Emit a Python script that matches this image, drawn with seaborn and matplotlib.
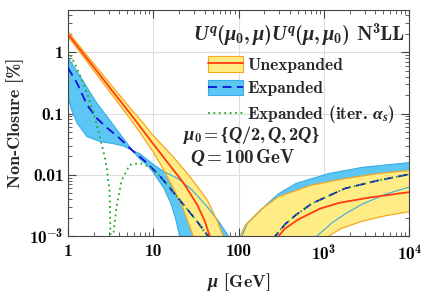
import numpy as np
import pandas as pd
import seaborn as sns
import matplotlib.pyplot as plt
from matplotlib.patches import Patch
from matplotlib.lines import Line2D
from matplotlib.ticker import FixedLocator, FixedFormatter, LogLocator, NullFormatter

# ---------------- data (non-closure in %) ----------------
# Unexpanded, central curve
unexp_mu_lo = [1, 1.8, 3.2, 5.6, 10, 13, 17, 22, 27, 33, 40, 46, 50, 52]
unexp_lo = [2.0, 0.70, 0.25, 0.093, 0.032, 0.020, 0.0123, 0.0078, 0.0050, 0.0032, 0.0018, 0.0010, 0.0005, 0.0002]
unexp_mu_hi = [265, 295, 350, 500, 900, 1500, 3500, 10000]
unexp_hi = [0.0004, 0.0010, 0.00132, 0.00186, 0.0028, 0.00347, 0.00427, 0.0052]

# Unexpanded band (scale variation)
unexp_up_mu_lo = [1, 1.8, 3.2, 5.6, 7, 10, 17, 27, 43, 56, 66, 72]
unexp_up_lo = [2.19, 0.79, 0.295, 0.115, 0.081, 0.0437, 0.020, 0.0093, 0.0039, 0.0018, 0.0010, 0.0004]
unexp_dn_mu_lo = [1, 1.8, 3.2, 5.6, 7, 10, 12, 17, 22, 29.5, 32]
unexp_dn_lo = [1.82, 0.62, 0.214, 0.076, 0.049, 0.0234, 0.0155, 0.0063, 0.0030, 0.0010, 0.0004]
unexp_up_mu_hi = [95, 105, 120, 188, 295, 725, 1780, 4370, 10000]
unexp_up_hi = [0.0004, 0.0010, 0.0015, 0.0028, 0.0044, 0.0068, 0.0087, 0.0105, 0.0117]
unexp_dn_mu_hi = [1050, 1150, 1580, 2800, 5250, 10000]
unexp_dn_hi = [0.0004, 0.0010, 0.00132, 0.00174, 0.00214, 0.0025]

# Expanded, central curve
exp_mu_lo = [1, 1.29, 1.68, 2.2, 2.9, 4, 5.7, 8.5, 12, 20.4, 32, 44, 48]
exp_lo = [0.56, 0.31, 0.138, 0.083, 0.058, 0.040, 0.025, 0.0155, 0.0095, 0.0039, 0.0018, 0.0010, 0.0004]
exp_mu_hi = [250, 270, 355, 470, 725, 1780, 4370, 10000]
exp_hi = [0.0005, 0.0010, 0.00158, 0.0022, 0.0034, 0.0060, 0.0081, 0.0102]

# Expanded band
exp_up_mu_lo = [1, 1.4, 2.2, 3.5, 5.7, 7, 10, 13.4, 19.5, 28, 43, 60, 76, 83]
exp_up_lo = [0.83, 0.40, 0.146, 0.062, 0.025, 0.022, 0.0148, 0.0112, 0.0087, 0.0058, 0.0030, 0.00166, 0.0010, 0.0004]
exp_dn_mu_lo = [1, 1.1, 1.29, 1.68, 2.4, 3.5, 4.5, 5.7, 7, 8.5, 10, 13.4, 16, 18.2, 20.4, 21.5]
exp_dn_lo = [0.20, 0.117, 0.069, 0.042, 0.035, 0.032, 0.0295, 0.025, 0.018, 0.0145, 0.011, 0.006, 0.0035, 0.002, 0.0010, 0.0004]
exp_up_mu_hi = [100, 110, 126, 188, 230, 295, 470, 1150, 2800, 10000]
exp_up_hi = [0.0005, 0.0010, 0.00158, 0.00275, 0.0036, 0.0049, 0.0072, 0.0105, 0.0132, 0.0158]
exp_dn_mu_hi = [760, 830, 1260, 1780, 2800, 5250, 10000]
exp_dn_hi = [0.0005, 0.0010, 0.00166, 0.0023, 0.0033, 0.0048, 0.0063]

# Expanded with iterative alpha_s
iter_mu_lo = [1, 1.23, 1.47, 1.76, 2.11, 2.42, 2.64, 2.85, 2.97, 3.08, 3.24, 3.4, 3.72, 4.27, 5.3, 7,
              9.1, 12, 20.4, 32, 43, 47]
iter_lo = [1.07, 0.62, 0.35, 0.178, 0.078, 0.037, 0.0224, 0.0135, 0.0081, 0.0056, 0.0002, 0.0010, 0.0030,
           0.0081, 0.0145, 0.0155, 0.0135, 0.0095, 0.0039, 0.0018, 0.0010, 0.0004]
iter_mu_hi = [245, 265, 355, 470, 725, 1780, 4370, 10000]
iter_hi = [0.0005, 0.0010, 0.00158, 0.0022, 0.0034, 0.0060, 0.0081, 0.0102]

labels = ["Unexpanded", "Expanded", r"Expanded (iter. $\alpha_s$)"]

# ---------------- style ----------------
sns.set_style("ticks")
plt.rcParams['font.family'] = ['cmb10', 'DejaVu Serif']
plt.rcParams['mathtext.fontset'] = 'custom'
plt.rcParams['mathtext.rm'] = 'cmb10'
plt.rcParams['mathtext.bf'] = 'Liberation Serif:bold'
plt.rcParams['mathtext.it'] = 'Liberation Serif:italic:bold'
plt.rcParams['mathtext.fallback'] = 'cm'
plt.rcParams['axes.unicode_minus'] = False

c_yel, c_org, c_red = "#ffec85", "#f5a623", "#ff3b0f"
c_blu, c_bedge, c_dash = "#5cc6f5", "#38ace6", "#1010d8"
c_grn = "#22aa22"

fig = plt.figure(figsize=(4.24, 2.98), dpi=100)
ax = fig.add_axes([0.160, 0.208, 0.805, 0.760])
ax.set(xscale='log', yscale='log', xlim=(1, 1e4), ylim=(1e-3, 5))
ax.set_axisbelow(True)
ax.grid(True, which='major', color='#dddddd', lw=0.8)


def band(mu_up, up, mu_dn, dn, color):
    ax.fill(list(mu_up) + list(mu_dn)[::-1], list(up) + list(dn)[::-1], color=color, lw=0, zorder=1)


# expanded band below the unexpanded one
band(exp_up_mu_lo, exp_up_lo, exp_dn_mu_lo, exp_dn_lo, c_blu)
band(exp_up_mu_hi, exp_up_hi, exp_dn_mu_hi, exp_dn_hi, c_blu)
band(unexp_up_mu_lo, unexp_up_lo, unexp_dn_mu_lo, unexp_dn_lo, c_yel)
band(unexp_up_mu_hi, unexp_up_hi, unexp_dn_mu_hi, unexp_dn_hi, c_yel)

for mx, my in [(exp_up_mu_lo, exp_up_lo), (exp_dn_mu_lo, exp_dn_lo),
               (exp_up_mu_hi, exp_up_hi), (exp_dn_mu_hi, exp_dn_hi)]:
    sns.lineplot(x=mx, y=my, ax=ax, color=c_bedge, lw=0.8, zorder=2)
for mx, my in [(unexp_up_mu_lo, unexp_up_lo), (unexp_dn_mu_lo, unexp_dn_lo),
               (unexp_up_mu_hi, unexp_up_hi), (unexp_dn_mu_hi, unexp_dn_hi)]:
    sns.lineplot(x=mx, y=my, ax=ax, color=c_org, lw=0.9, zorder=2)

for mx, my in [(unexp_mu_lo, unexp_lo), (unexp_mu_hi, unexp_hi)]:
    sns.lineplot(x=mx, y=my, ax=ax, color=c_red, lw=1.3, zorder=3)
for mx, my in [(exp_mu_lo, exp_lo), (exp_mu_hi, exp_hi)]:
    sns.lineplot(x=mx, y=my, ax=ax, color=c_dash, lw=1.3, ls=(0, (5, 3)), zorder=3)
for mx, my in [(iter_mu_lo, iter_lo), (iter_mu_hi, iter_hi)]:
    sns.lineplot(x=mx, y=my, ax=ax, color=c_grn, lw=1.3, ls=(0, (1, 2)), zorder=4)

# ticks
ax.xaxis.set_major_locator(FixedLocator([1, 10, 100, 1e3, 1e4]))
ax.xaxis.set_major_formatter(FixedFormatter(['1', '10', '100', r'$10^3$', r'$10^4$']))
ax.yaxis.set_major_locator(FixedLocator([1e-3, 1e-2, 0.1, 1]))
ax.yaxis.set_major_formatter(FixedFormatter([r'$10^{-3}$', '0.01', '0.1', '1']))
ax.xaxis.set_minor_locator(LogLocator(base=10, subs=np.arange(2, 10), numticks=20))
ax.yaxis.set_minor_locator(LogLocator(base=10, subs=np.arange(2, 10), numticks=20))
ax.xaxis.set_minor_formatter(NullFormatter())
ax.yaxis.set_minor_formatter(NullFormatter())
ax.tick_params(which='both', direction='in', top=True, right=True, labelsize=12.5, colors='#444444',
               labelcolor='black')
ax.tick_params(which='major', length=6, width=0.8)
ax.tick_params(axis='x', which='major', pad=6)
ax.tick_params(axis='y', which='major', pad=3)
ax.tick_params(which='minor', length=3, width=0.6)
for s in ax.spines.values():
    s.set_color('#444444')
    s.set_linewidth(0.8)

ax.set_xlabel(r'$\mu$ [GeV]', fontsize=13, labelpad=6)
ax.set_ylabel('Non-Closure [%]', fontsize=13)

ax.text(0.99, 0.885, r'$U^q(\mu_0,\mu)U^q(\mu,\mu_0)$ N$^3$LL', transform=ax.transAxes,
        ha='right', va='center', fontsize=14.6)

handles = [(Patch(facecolor=c_yel, edgecolor=c_org, lw=0.8), Line2D([], [], color=c_red, lw=1.3)),
           (Patch(facecolor=c_blu, edgecolor=c_bedge, lw=0.8), Line2D([], [], color=c_dash, lw=1.3, ls=(0, (5, 3)))),
           Line2D([], [], color=c_grn, lw=1.3, ls=(0, (1, 2)))]
ax.legend(handles, labels, loc='upper left', bbox_to_anchor=(0.39, 0.825), frameon=False, fontsize=12.5,
          handlelength=2.0, handleheight=1.0, handletextpad=0.25, labelspacing=0.4, borderaxespad=0)

ax.text(0.338, 0.447, r'$\mu_0 = \mathbf{\{}Q/2, Q, 2Q\mathbf{\}}$', transform=ax.transAxes, ha='left',
        va='center', fontsize=13.2)
ax.text(0.358, 0.345, r'$Q = 100\,$GeV', transform=ax.transAxes, ha='left', va='center', fontsize=13.8)

fig.savefig('out.png', dpi=100)
